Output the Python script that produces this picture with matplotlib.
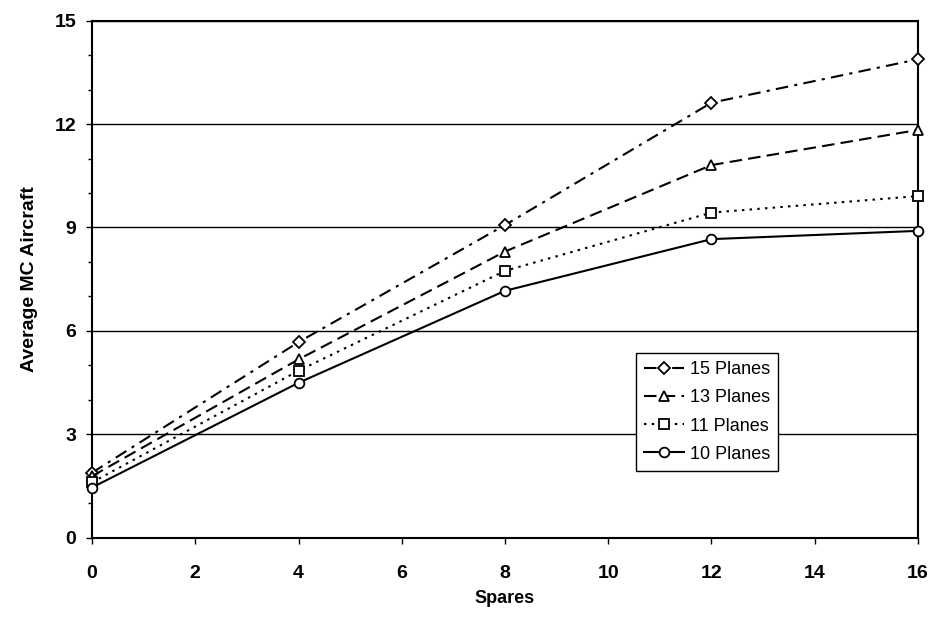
import numpy as np
import matplotlib.pyplot as plt
from matplotlib.ticker import MultipleLocator

plt.rcParams['font.family'] = ['Liberation Sans', 'DejaVu Sans']

spares = [0, 4, 8, 12, 16]
planes_15 = [1.88, 5.67, 9.07, 12.62, 13.88]
planes_13 = [1.78, 5.17, 8.30, 10.81, 11.83]
planes_11 = [1.60, 4.84, 7.74, 9.43, 9.91]
planes_10 = [1.45, 4.49, 7.16, 8.66, 8.90]

fig = plt.figure(figsize=(9.33, 6.28), dpi=100)
ax = fig.add_axes([92 / 933, 1 - 537.5 / 628, 826 / 933, 516.8 / 628])

style = dict(color='black', lw=1.5, markerfacecolor='white',
             markeredgecolor='black', markeredgewidth=1.3, clip_on=False, zorder=5)
ax.plot(spares, planes_15, linestyle=(0, (6, 3, 1.5, 3)), marker='D', markersize=6,
        label='15 Planes', **style)
ax.plot(spares, planes_13, linestyle=(0, (6, 3)), marker='^', markersize=7,
        label='13 Planes', **style)
ax.plot(spares, planes_11, linestyle=(0, (1.2, 2.5)), marker='s', markersize=7,
        label='11 Planes', **style)
ax.plot(spares, planes_10, linestyle='-', marker='o', markersize=7,
        label='10 Planes', **style)

ax.set_xlim(0, 16)
ax.set_ylim(0, 15)
ax.xaxis.set_major_locator(MultipleLocator(2))
ax.yaxis.set_major_locator(MultipleLocator(3))
ax.yaxis.set_minor_locator(MultipleLocator(1))
ax.grid(axis='y', which='major', color='black', lw=1)
ax.set_axisbelow(True)
for s in ax.spines.values():
    s.set_linewidth(1.5)
ax.tick_params(axis='both', which='major', direction='out', length=4.5, width=1,
               labelsize=14)
ax.tick_params(axis='x', which='major', pad=15)
ax.tick_params(axis='y', which='major', pad=7)
ax.tick_params(axis='y', which='minor', direction='out', length=3, width=1)
for lab in ax.get_xticklabels() + ax.get_yticklabels():
    lab.set_fontweight('bold')

ax.set_xlabel('Spares', fontsize=13, fontweight='bold', labelpad=6)
ax.set_ylabel('Average MC Aircraft', fontsize=14, fontweight='bold', labelpad=12)

leg = ax.legend(loc='upper right', bbox_to_anchor=((778 - 92) / 826, (537.5 - 353) / 516.8),
                fontsize=13, frameon=True, fancybox=False, edgecolor='black', framealpha=1,
                handlelength=2.2, borderpad=0.45, labelspacing=0.62, handletextpad=0.3,
                borderaxespad=0)
leg.get_frame().set_linewidth(1)

fig.savefig('out.png', dpi=100)
